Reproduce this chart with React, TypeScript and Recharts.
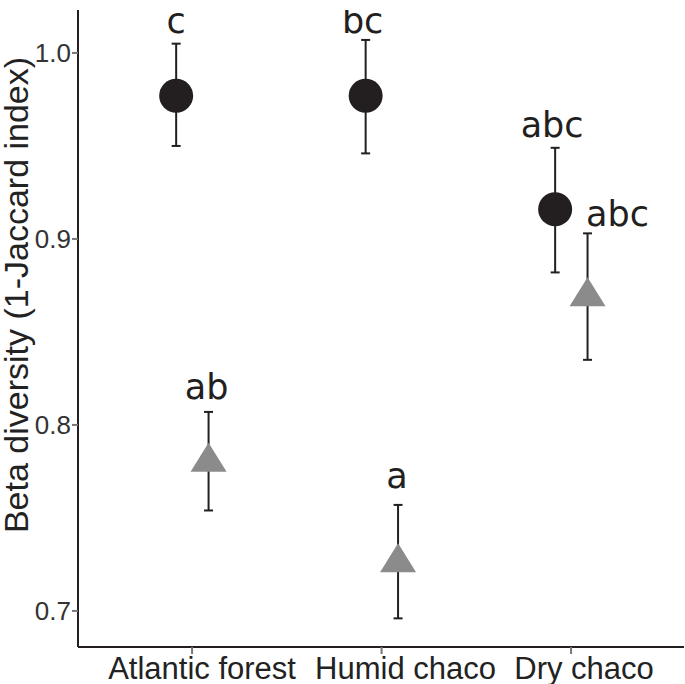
import React from "react";
import {
  ScatterChart,
  Scatter,
  XAxis,
  YAxis,
  ErrorBar,
} from "recharts";

const categories = ["Atlantic forest", "Humid chaco", "Dry chaco"];

// black circles
const darkMean = [0.977, 0.977, 0.916];
const darkLow = [0.950, 0.946, 0.882];
const darkHigh = [1.005, 1.007, 0.949];
const darkLetters = ["c", "bc", "abc"];
const darkLetterY = [1.011, 1.011, 0.955];

// grey triangles
const greyMean = [0.780, 0.726, 0.869];
const greyLow = [0.754, 0.696, 0.835];
const greyHigh = [0.807, 0.757, 0.903];
const greyLetters = ["ab", "a", "abc"];
const greyLetterY = [0.814, 0.766, 0.907];

const yTicks = [0.7, 0.8, 0.9, 1.0];

// dodge in category units
const DODGE_DARK = -0.084;
const DODGE_GREY = 0.087;

const INK = "#231f20";
const GREY = "#8b8b8b";

const makeRows = (mean: number[], low: number[], high: number[], dodge: number) =>
  categories.map((c, i) => ({
    x: i + 1 + dodge,
    y: mean[i],
    err: [mean[i] - low[i], high[i] - mean[i]],
  }));

const makeLetters = (letters: string[], ys: number[], dodge: number) =>
  letters.map((l, i) => ({ x: i + 1 + dodge, y: ys[i], letter: l, idx: i }));

const darkRows = makeRows(darkMean, darkLow, darkHigh, DODGE_DARK);
const greyRows = makeRows(greyMean, greyLow, greyHigh, DODGE_GREY);
const darkLetterRows = makeLetters(darkLetters, darkLetterY, DODGE_DARK);
const greyLetterRows = makeLetters(greyLetters, greyLetterY, DODGE_GREY);

// small horizontal nudges for labels (px)
const xLabelShift = [10, 24, 13];
const greyLetterShift = [-2, -1, 30];
const darkLetterShift = [0, -3, -3];

const Circle = (p: any) => <circle cx={p.cx} cy={p.cy} r={17} fill={INK} />;

const Triangle = (p: any) => (
  <polygon
    points={`${p.cx},${p.cy - 19.3} ${p.cx + 18},${p.cy + 9.7} ${p.cx - 18},${p.cy + 9.7}`}
    fill={GREY}
  />
);

const Nothing = () => <g />;

const letterShape = (shift: number[]) => (p: any) => (
  <text
    x={p.cx + shift[p.payload.idx]}
    y={p.cy}
    textAnchor="middle"
    fontFamily="DejaVu Sans"
    fontSize={35}
    fill={INK}
  >
    {p.payload.letter}
  </text>
);

const XTick = (p: any) => (
  <text
    x={p.x + xLabelShift[p.index]}
    y={p.y + 23}
    textAnchor="middle"
    fontFamily="Liberation Sans, Arial"
    fontSize={31}
    fill="#222"
  >
    {categories[p.payload.value - 1]}
  </text>
);

const YLabel = () => (
  <text
    x={28}
    y={295}
    transform="rotate(-90, 28, 295)"
    textAnchor="middle"
    fontFamily="Liberation Sans, Arial"
    fontSize={34}
    fill="#222"
  >
    Beta diversity (1-Jaccard index)
  </text>
);

export default function App() {
  return (
    <div style={{ position: "absolute", left: 0, top: 0, background: "#fff" }}>
      <ScatterChart
        width={685}
        height={684}
        margin={{ top: 10, right: 1, bottom: 7, left: 0 }}
      >
        <XAxis
          type="number"
          dataKey="x"
          domain={[0.398, 3.596]}
          ticks={[1, 2, 3]}
          allowDataOverflow
          height={30}
          tickSize={7}
          tickMargin={2}
          axisLine={{ stroke: INK, strokeWidth: 2 }}
          tickLine={{ stroke: "#777", strokeWidth: 2 }}
          tick={<XTick />}
        />
        <YAxis
          type="number"
          dataKey="y"
          domain={[0.6806, 1.0231]}
          ticks={yTicks}
          allowDataOverflow
          width={78}
          tickSize={6}
          tickMargin={1}
          tickFormatter={(v: number) => v.toFixed(1)}
          axisLine={{ stroke: INK, strokeWidth: 2 }}
          tickLine={{ stroke: "#777", strokeWidth: 2 }}
          tick={{ fontFamily: "Liberation Sans, Arial", fontSize: 26, fill: "#333" }}
          label={<YLabel />}
        />
        <Scatter data={darkRows} shape={<Circle />} isAnimationActive={false}>
          <ErrorBar
            dataKey="err"
            direction="y"
            width={4.5}
            stroke={INK}
            strokeWidth={2}
            isAnimationActive={false}
          />
        </Scatter>
        <Scatter data={greyRows} shape={<Triangle />} isAnimationActive={false} />
        <Scatter data={greyRows} shape={<Nothing />} isAnimationActive={false}>
          <ErrorBar
            dataKey="err"
            direction="y"
            width={4.5}
            stroke={INK}
            strokeWidth={2}
            isAnimationActive={false}
          />
        </Scatter>
        <Scatter
          data={darkLetterRows}
          shape={letterShape(darkLetterShift)}
          isAnimationActive={false}
        />
        <Scatter
          data={greyLetterRows}
          shape={letterShape(greyLetterShift)}
          isAnimationActive={false}
        />
      </ScatterChart>
    </div>
  );
}
